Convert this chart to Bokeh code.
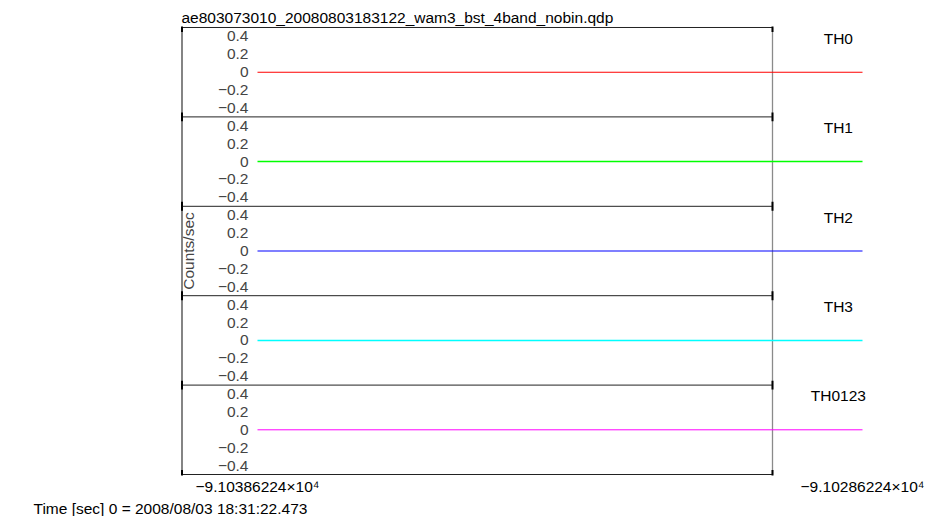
from bokeh.plotting import figure
from bokeh.models import Range1d, LinearAxis, FixedTicker, Title
from bokeh.core.properties import value
from bokeh.embed import file_html
from bokeh.resources import INLINE

# ---------------- data ----------------
title_text = "ae803073010_20080803183122_wam3_bst_4band_nobin.qdp"
time_label = "Time [sec] 0 = 2008/08/03 18:31:22.473"
y_label = "Counts/sec"
channels = ["TH0", "TH1", "TH2", "TH3", "TH0123"]
colors = ["#ff0000", "#00ff00", "#0000ff", "#00ffff", "#ff00ff"]
time_sec = [-91038.6224, -91028.6224]
th0 = [0.0, 0.0]
th1 = [0.0, 0.0]
th2 = [0.0, 0.0]
th3 = [0.0, 0.0]
th0123 = [0.0, 0.0]
series = [th0, th1, th2, th3, th0123]
x_tick_values = [-91038.6224, -91028.6224]
x_tick_labels = ["\u22129.10386224\u00d710\u2074", "\u22129.10286224\u00d710\u2074"]
y_tick_values = [0.4, 0.2, 0.0, -0.2, -0.4]
y_tick_labels = ["0.4", "0.2", "0", "\u22120.2", "\u22120.4"]
y_limits = [-0.5, 0.5]

# ---------------- layout ----------------
FONT = "Liberation Sans"
FS = "15.5px"
W, H = 933, 516
t0, t1 = time_sec[0], time_sec[-1]
ppx = 605.0 / (t1 - t0)          # pixels per second
span = y_limits[1] - y_limits[0]
n = len(channels)
ppy = 449.0 / (n * span)          # pixels per count/sec
pad = 1.0 / ppy
offsets = [-i * span for i in range(n)]
widths = [1.1, 1.5, 1.2, 1.5, 1.0]

x_range = Range1d(t0 - 77 / ppx, t1 + 71 / ppx)
y_range = Range1d(offsets[-1] + y_limits[0] - pad, offsets[0] + y_limits[1] + pad)

p = figure(width=W, height=H, x_range=x_range, y_range=y_range,
           min_border_left=180, min_border_right=0, min_border_top=26,
           min_border_bottom=39, toolbar_location=None, output_backend="svg",
           x_axis_location="below", y_axis_location=None,
           outline_line_color=None, background_fill_color="white",
           border_fill_color="white")
p.grid.grid_line_color = None

# title
p.title.text = title_text
p.title.align = "left"
p.title.offset = 1
p.title.standoff = 2
p.title.text_font = FONT
p.title.text_font_size = FS
p.title.text_font_style = "normal"
p.title.text_color = "black"

# x axis
xa = p.xaxis[0]
xa.ticker = FixedTicker(ticks=x_tick_values)
xa.major_label_overrides = dict(zip(x_tick_values, x_tick_labels))
xa.axis_line_color = None
xa.major_tick_line_color = None
xa.minor_tick_line_color = None
xa.major_tick_out = 0
xa.major_tick_in = 0
xa.minor_tick_out = 0
xa.minor_tick_in = 0
xa.major_label_text_font = FONT
xa.major_label_text_font_size = FS
xa.major_label_text_color = "black"
xa.major_label_standoff = 2

# time label below the x axis
p.add_layout(Title(text=time_label, align="left", offset=-147, standoff=0,
                   text_font=FONT, text_font_size=FS, text_font_style="normal",
                   text_color="black"), "below")

# y axis (stacked panels, labels inside the frame)
all_ticks, overrides = [], {}
for off in offsets:
    for v, lab in zip(y_tick_values, y_tick_labels):
        t = off + v
        all_ticks.append(t)
        overrides[t] = lab
ya = LinearAxis(fixed_location=t0 - 5 / ppx,
                ticker=FixedTicker(ticks=all_ticks),
                major_label_overrides=overrides,
                axis_label=y_label,
                axis_label_text_font=FONT, axis_label_text_font_size=FS,
                axis_label_text_font_style="normal", axis_label_standoff=18,
                major_label_text_font=FONT, major_label_text_font_size=FS,
                major_label_standoff=4,
                major_tick_out=0, major_tick_in=0,
                minor_tick_out=0, minor_tick_in=0,
                axis_line_color=None, major_tick_line_color=None,
                minor_tick_line_color=None)
p.add_layout(ya, "left")

# frame
frame_left = x_range.start + 1.5 / ppx
frame_right = t0 + 515 / ppx
bounds = [offsets[0] + y_limits[1]] + [off + y_limits[0] for off in offsets]
p.segment(x0=[frame_left] * len(bounds), y0=bounds,
          x1=[frame_right] * len(bounds), y1=bounds,
          line_color="#222222", line_width=1)
p.segment(x0=[frame_left], y0=[bounds[0]], x1=[frame_left], y1=[bounds[-1]],
          line_color="#333333", line_width=1.2)
p.segment(x0=[frame_right], y0=[bounds[0]], x1=[frame_right], y1=[bounds[-1]],
          line_color="#8a8a8a", line_width=1.3)
tk = 0.05
for fx in (frame_left, frame_right):
    p.segment(x0=[fx] * len(bounds), y0=[b - tk for b in bounds],
              x1=[fx] * len(bounds), y1=[b + tk for b in bounds],
              line_color="black", line_width=2)

# series
for vals, col, off, lw in zip(series, colors, offsets, widths):
    p.line(time_sec, [v + off for v in vals], line_color=col, line_width=lw)

# channel names
p.text(x=[t1 - 0.40] * n, y=[off + 0.38 for off in offsets], text=channels,
       text_font=value(FONT), text_font_size=FS, text_color="black",
       text_align="center", text_baseline="middle")

open("out.html", "w").write(file_html(p, INLINE))
